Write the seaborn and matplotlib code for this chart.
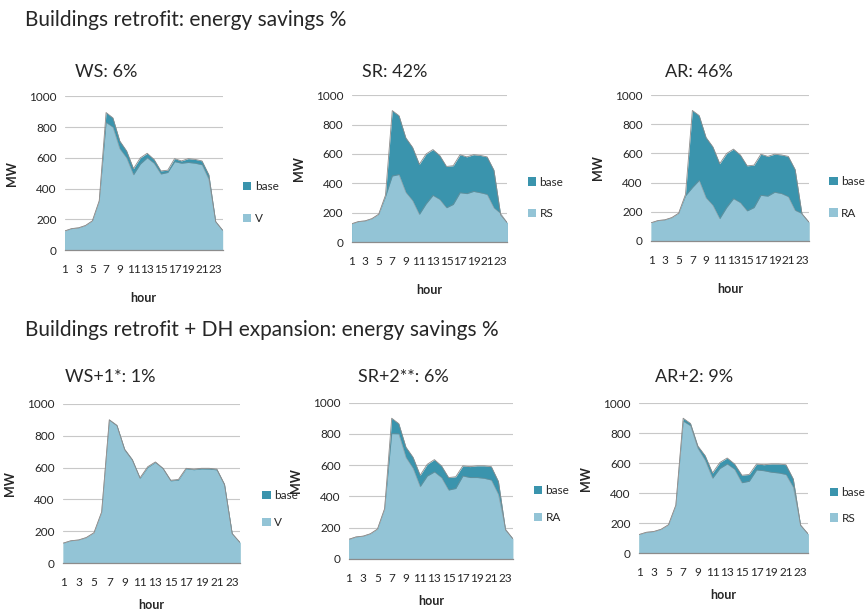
import numpy as np
import pandas as pd
import matplotlib
matplotlib.use("Agg")
import matplotlib.pyplot as plt
from matplotlib.patches import Patch
import seaborn as sns

sns.set_style("white")
plt.rcParams['font.family'] = ['Lato', 'DejaVu Sans']

hours = list(range(1, 25))
hour_ticks = list(range(1, 24, 2))

base_top = [125, 140, 145, 160, 190, 320, 895, 860, 710, 645, 530, 600, 630, 590, 515, 520,
            595, 580, 595, 590, 580, 490, 185, 130]
v_top = [125, 140, 145, 160, 190, 320, 830, 800, 660, 600, 490, 560, 600, 565, 495, 505,
         575, 565, 570, 565, 555, 460, 185, 130]
rs_top = [125, 140, 145, 160, 190, 310, 450, 460, 340, 284, 189, 261, 318, 291, 234, 257,
          336, 330, 345, 336, 325, 234, 195, 130]
ra_top = [125, 140, 145, 160, 190, 310, 366, 416, 297, 245, 153, 229, 290, 263, 206, 229,
          313, 307, 334, 325, 304, 210, 188, 130]

base_bot = [125, 140, 145, 160, 190, 320, 900, 865, 715, 650, 535, 605, 635, 595, 520, 525,
            595, 590, 595, 595, 590, 495, 185, 130]
v_bot = [125, 140, 145, 160, 190, 320, 898, 862, 710, 645, 532, 600, 632, 592, 516, 521,
         592, 586, 591, 590, 585, 490, 185, 130]
ra_bot = [125, 140, 145, 160, 190, 320, 801, 800, 650, 580, 462, 530, 556, 520, 440, 450,
          530, 520, 520, 515, 504, 412, 190, 130]
rs_bot = [125, 140, 145, 160, 190, 320, 880, 850, 700, 620, 500, 565, 595, 560, 470, 480,
          555, 550, 540, 535, 525, 440, 190, 130]

titles = ["WS: 6%", "SR: 42%", "AR: 46%", "WS+1*: 1%", "SR+2**: 6%", "AR+2: 9%"]
labels = ["V", "RS", "RA", "V", "RA", "RS"]
bases = [base_top, base_top, base_top, base_bot, base_bot, base_bot]
scens = [v_top, rs_top, ra_top, v_bot, ra_bot, rs_bot]

dark = "#3A94AD"
light = "#93C4D6"
edge = "#8a8a8a"

# axes rectangles in figure fractions
rects = [
    [0.075, 0.590, 0.182, 0.252],
    [0.406, 0.603, 0.180, 0.241],
    [0.752, 0.605, 0.182, 0.239],
    [0.073, 0.077, 0.204, 0.261],
    [0.403, 0.084, 0.189, 0.256],
    [0.738, 0.093, 0.195, 0.246],
]
leg_y = [0.31, 0.30, 0.30, 0.34, 0.35, 0.32]
leg_sp = [1.75, 1.75, 1.75, 1.35, 1.35, 1.25]
title_pos = [(75, 72), (362, 72), (665, 72), (65, 377), (358, 377), (655, 377)]

fig = plt.figure(figsize=(8.66, 6.10), dpi=100)
fig.text(25 / 866, 1 - 20 / 610, "Buildings retrofit: energy savings %", fontsize=15,
         va="center", ha="left")
fig.text(25 / 866, 1 - 330 / 610, "Buildings retrofit + DH expansion: energy savings %",
         fontsize=15, va="center", ha="left")

for i in range(6):
    ax = fig.add_axes(rects[i])
    df = pd.DataFrame({"hour": hours, "base": bases[i], "scen": scens[i]})
    ax.fill_between(df["hour"], 0, df["base"], color=dark, linewidth=0, zorder=2)
    ax.fill_between(df["hour"], 0, df["scen"], color=light, linewidth=0, zorder=3)
    sns.lineplot(data=df, x="hour", y="base", ax=ax, color=edge, linewidth=0.6, zorder=4)
    sns.lineplot(data=df, x="hour", y="scen", ax=ax, color=edge, linewidth=0.5, zorder=4,
                 alpha=0.6)
    ax.set_xlim(1, 24)
    ax.set_ylim(0, 1000)
    ax.set_yticks(range(0, 1001, 200))
    ax.set_xticks(hour_ticks)
    ax.set_xticklabels([str(h) for h in hour_ticks], fontsize=8.5)
    ax.tick_params(axis="y", labelsize=8.5, length=0, pad=6)
    ax.tick_params(axis="x", length=0, pad=10)
    ax.yaxis.grid(True, color="#c8c8c8", linewidth=0.8, zorder=0)
    ax.set_axisbelow(True)
    for s in ["top", "right", "left"]:
        ax.spines[s].set_visible(False)
    ax.spines["bottom"].set_color("#8c8c8c")
    ax.spines["bottom"].set_linewidth(0.9)
    ax.spines["bottom"].set_zorder(5)
    ax.set_xlabel("hour", fontsize=9, fontweight="bold", labelpad=12 if i < 3 else 8)
    ax.set_ylabel("MW", fontsize=9, fontweight="bold", labelpad=8)
    handles = [Patch(facecolor=dark, edgecolor="none", label="base"),
               Patch(facecolor=light, edgecolor="none", label=labels[i])]
    ax.legend(handles=handles, loc="center left", bbox_to_anchor=(1.1, leg_y[i]),
              frameon=False, fontsize=8.5, handlelength=0.7, handleheight=0.7,
              handletextpad=0.3, labelspacing=leg_sp[i], borderaxespad=0)
    tx, ty = title_pos[i]
    fig.text(tx / 866, 1 - ty / 610, titles[i], fontsize=13, va="center", ha="left")

fig.savefig("out.png", dpi=100, facecolor="white")
